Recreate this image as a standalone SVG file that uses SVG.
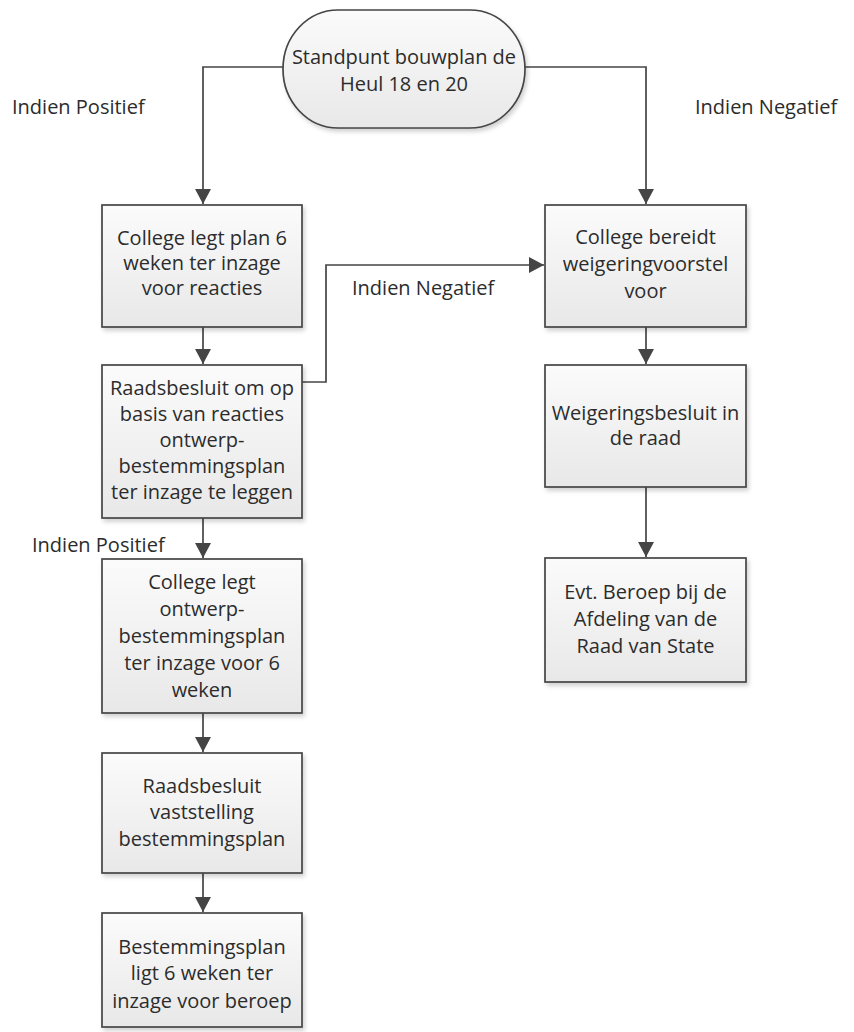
<svg xmlns="http://www.w3.org/2000/svg" width="854" height="1032" viewBox="0 0 854 1032">
<style>
.box{fill:url(#g);stroke:#454545;stroke-width:1.7;filter:url(#sh)}
.t{font-family:"Open Sans","Liberation Sans",sans-serif;font-size:20px;fill:#2c2c2c;text-anchor:middle}
.l{font-family:"Open Sans","Liberation Sans",sans-serif;font-size:20px;fill:#2c2c2c}
.c{fill:none;stroke:#454545;stroke-width:1.7;marker-end:url(#a)}
</style>
<defs>
<linearGradient id="g" x1="0" y1="0" x2="0" y2="1"><stop offset="0" stop-color="#fbfbfb"/><stop offset="1" stop-color="#e8e8e8"/></linearGradient>
<filter id="sh" x="-10%" y="-10%" width="120%" height="130%"><feDropShadow dx="2" dy="3" stdDeviation="2" flood-color="#000" flood-opacity="0.18"/></filter>
<marker id="a" markerWidth="18" markerHeight="16" refX="15" refY="8" orient="auto" markerUnits="userSpaceOnUse"><path d="M0,0 L15,8 L0,16 z" fill="#454545"/></marker>
</defs>
<g id="connectors">
<path class="c" d="M283,67 H203 V204"/>
<path class="c" d="M525,67 H646 V204"/>
<path class="c" d="M203,327 V364"/>
<path class="c" d="M203,518 V558"/>
<path class="c" d="M203,713 V752"/>
<path class="c" d="M203,873 V912"/>
<path class="c" d="M646,327 V364"/>
<path class="c" d="M646,487 V557"/>
<path class="c" d="M302,382 H326 V265 H544"/>
</g>
<g id="labels">
<text class="l" x="12" y="114">Indien Positief</text>
<text class="l" x="695" y="114">Indien Negatief</text>
<text class="l" x="352" y="295">Indien Negatief</text>
<text class="l" x="32" y="552">Indien Positief</text>
</g>
<g id="start">
<rect class="box" x="283" y="10" width="242" height="118" rx="55" ry="59"/>
<text class="t" x="404" y="64">Standpunt bouwplan de</text>
<text class="t" x="404" y="91">Heul 18 en 20</text>
</g>
<g id="n1">
<rect class="box" x="102" y="205" width="200" height="122"/>
<text class="t" x="202" y="245">College legt plan 6</text>
<text class="t" x="202" y="270">weken ter inzage</text>
<text class="t" x="202" y="295">voor reacties</text>
</g>
<g id="n2">
<rect class="box" x="102" y="365" width="200" height="153"/>
<text class="t" x="202" y="395">Raadsbesluit om op</text>
<text class="t" x="202" y="421">basis van reacties</text>
<text class="t" x="202" y="447">ontwerp-</text>
<text class="t" x="202" y="473">bestemmingsplan</text>
<text class="t" x="202" y="499">ter inzage te leggen</text>
</g>
<g id="n3">
<rect class="box" x="102" y="559" width="200" height="154"/>
<text class="t" x="202" y="589">College legt</text>
<text class="t" x="202" y="616">ontwerp-</text>
<text class="t" x="202" y="643">bestemmingsplan</text>
<text class="t" x="202" y="670">ter inzage voor 6</text>
<text class="t" x="202" y="697">weken</text>
</g>
<g id="n4">
<rect class="box" x="102" y="753" width="200" height="120"/>
<text class="t" x="202" y="793">Raadsbesluit</text>
<text class="t" x="202" y="819">vaststelling</text>
<text class="t" x="202" y="846">bestemmingsplan</text>
</g>
<g id="n5">
<rect class="box" x="102" y="913" width="200" height="114"/>
<text class="t" x="202" y="954">Bestemmingsplan</text>
<text class="t" x="202" y="980">ligt 6 weken ter</text>
<text class="t" x="202" y="1008">inzage voor beroep</text>
</g>
<g id="r1">
<rect class="box" x="545" y="205" width="201" height="122"/>
<text class="t" x="645.5" y="244">College bereidt</text>
<text class="t" x="645.5" y="271">weigeringvoorstel</text>
<text class="t" x="645.5" y="298">voor</text>
</g>
<g id="r2">
<rect class="box" x="545" y="365" width="201" height="122"/>
<text class="t" x="645.5" y="420">Weigeringsbesluit in</text>
<text class="t" x="645.5" y="445">de raad</text>
</g>
<g id="r3">
<rect class="box" x="545" y="558" width="201" height="124"/>
<text class="t" x="645.5" y="599">Evt. Beroep bij de</text>
<text class="t" x="645.5" y="626">Afdeling van de</text>
<text class="t" x="645.5" y="653">Raad van State</text>
</g>
</svg>
